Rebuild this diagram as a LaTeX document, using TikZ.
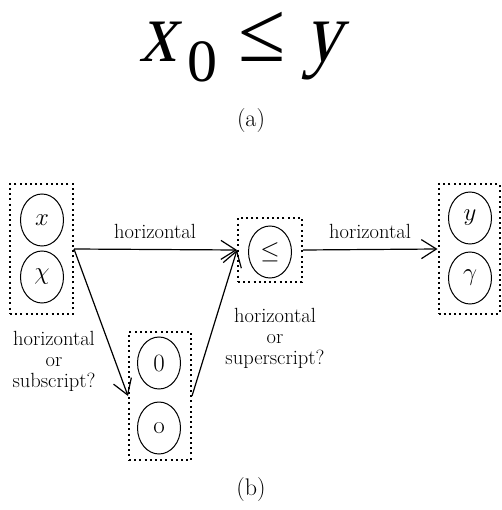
\documentclass[tikz,border=0pt]{standalone}
\usepackage{fontspec}
\newfontfamily\formulafont{Liberation Serif}
\newfontfamily\formulaslant{Liberation Serif}[FakeSlant=0.22, FakeStretch=0.86]
\usetikzlibrary{arrows.meta,shapes.geometric}
\begin{document}
\begin{tikzpicture}[x=1pt,y=-1pt,
  groupbox/.style={draw, line width=2pt, dash pattern=on 2pt off 3.2pt, inner sep=0pt},
  token/.style={draw, ellipse, line width=1pt, minimum width=43pt, minimum height=52pt,
    inner sep=0pt, font=\fontsize{25}{28}\selectfont},
  link/.style={-{Straight Barb[length=15pt,width=19pt,line width=1.2pt]}, line width=1.2pt},
  lbl/.style={font=\fontsize{20.5}{21}\selectfont, align=center, inner sep=0pt},
  caption/.style={font=\fontsize{24}{26}\selectfont, inner sep=0pt},
  formula/.style={anchor=base west, inner sep=0pt, font=\formulafont\fontsize{86}{90}\selectfont},
  formulavar/.style={formula, font=\formulaslant\fontsize{86}{90}\selectfont}
]
\useasboundingbox (0,0) rectangle (501,510);

% (a) the formula
\node[formulavar] (fx) at (139,62) {x};
\node[formula, font=\formulafont\fontsize{60}{66}\selectfont] (f0) at (187,82) {0};
\node[formula] (fle) at (238,62) {≤};
\node[formulavar] (fy) at (304,62) {y};
\node[caption] (capa) at (251,121) {(a)};

% (b) groups of candidate symbols
\node[groupbox, minimum width=63pt, minimum height=130pt] (L) at (41.5,249) {};
\node[groupbox, minimum width=64pt, minimum height=64pt] (M) at (270,250) {};
\node[groupbox, minimum width=61pt, minimum height=129pt] (R) at (469,249) {};
\node[groupbox, minimum width=62pt, minimum height=128pt] (S) at (160,396) {};

\node[token] (tx) at (42,220) {$x$};
\node[token] (tchi) at (42,277) {$\chi$};
\node[token] (tle) at (270,252) {$\leq$};
\node[token] (ty) at (470,218) {$y$};
\node[token] (tgamma) at (470,278) {$\gamma$};
\node[token] (tzero) at (159,363) {$0$};
\node[token] (to) at (159,428) {o};

% connectors
\draw[link] (L.east) -- (M.west);
\draw[link] (M.east) -- (R.west);
\draw[link] (L.east) -- (S.west);
\draw[link] (S.east) -- (M.west);

% connector labels
\node[lbl] (h1) at (155,231) {horizontal};
\node[lbl] (h2) at (370,231) {horizontal};
\node[lbl] (sub) at (54,361) {horizontal\\or\\subscript?};
\node[lbl] (sup) at (275,338) {horizontal\\or\\superscript?};

\node[caption] (capb) at (251,490) {(b)};
\end{tikzpicture}
\end{document}
